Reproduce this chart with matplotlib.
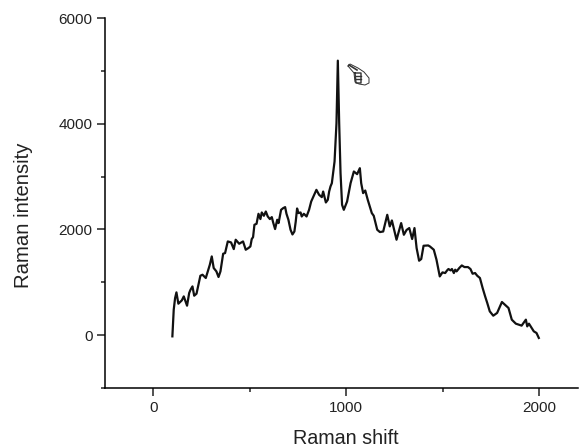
import matplotlib
matplotlib.use('Agg')
import matplotlib.pyplot as plt

plt.rcParams['font.family'] = ['Liberation Sans', 'DejaVu Sans']

raman_shift = [
    99, 106, 113, 120, 130, 148, 158, 175, 186, 193, 203, 212, 224, 244, 255, 272, 293, 303, 313, 327,
    338, 348, 362, 372, 386, 403, 417, 427, 445, 465, 479, 493,
    503, 510, 517, 524, 535, 545, 555, 562, 573, 583, 593, 604, 614, 621, 631, 642, 649, 662,
    673, 683, 690, 700, 711, 721, 731, 738, 745, 752, 763, 769, 780, 794, 807, 818, 828, 845, 859, 873,
    880, 894, 904, 911, 918, 925, 939, 949, 956, 963, 970, 978, 987, 1004, 1022, 1039, 1056, 1070, 1077, 1087,
    1098, 1111, 1132, 1142, 1160, 1174, 1191, 1212, 1225, 1236, 1260, 1284, 1298, 1312, 1326, 1341, 1353, 1364, 1377, 1388,
    1400, 1424, 1433, 1453, 1467, 1484, 1498, 1512, 1522, 1529, 1540, 1547, 1557, 1564, 1571, 1585, 1598, 1612, 1630, 1643,
    1654, 1667, 1678, 1692, 1706, 1719, 1730, 1743, 1761, 1781, 1806, 1821, 1840, 1857, 1878, 1908, 1930, 1937, 1946, 1971,
    1985, 1997,
]
raman_intensity = [
    -23, 482, 700, 809, 595, 658, 733, 557, 797, 860, 922, 746, 784, 1124, 1143, 1081, 1332, 1489, 1270, 1206,
    1100, 1206, 1540, 1553, 1773, 1754, 1628, 1805, 1729, 1773, 1616, 1648,
    1678, 1817, 1855, 2088, 2107, 2296, 2196, 2321, 2258, 2339, 2245, 2196, 2233, 2132, 2007, 2183, 2120, 2371,
    2403, 2422, 2296, 2183, 1994, 1905, 1961, 2150, 2396, 2309, 2321, 2245, 2296, 2245, 2371, 2528, 2611, 2749, 2655, 2611,
    2717, 2510, 2560, 2717, 2813, 2875, 3285, 4009, 5193, 4009, 3065, 2466, 2371, 2529, 2875, 3096, 3046, 3159, 2875, 2687,
    2736, 2560, 2309, 2258, 1994, 1950, 1961, 2277, 2057, 2170, 1805, 2120, 1899, 1990, 2026, 1818, 2026, 1648, 1408, 1440,
    1691, 1697, 1678, 1616, 1427, 1111, 1187, 1175, 1225, 1251, 1225, 1251, 1175, 1238, 1206, 1270, 1319, 1288, 1288, 1251,
    1162, 1175, 1124, 1081, 892, 733, 608, 450, 368, 420, 627, 576, 514, 293, 217, 180, 293, 166, 217, 72,
    41, -53,
]
x_ticks = [0, 1000, 2000]
x_minor = [500, 1500]
y_ticks = [0, 2000, 4000, 6000]
y_minor = [-1000, 1000, 3000, 5000]

W, H = 580, 447
fig = plt.figure(figsize=(W / 100, H / 100), dpi=100)
ax = fig.add_axes([105 / W, 1 - 388 / H, (578 - 105) / W, (388 - 18) / H])
ax.plot(raman_shift, raman_intensity, color='#111111', lw=1.6, solid_joinstyle='round')
ax.set_xlim(-250, 2200)
ax.set_ylim(-1000, 6000)
ax.set_xticks(x_ticks)
ax.set_xticks(x_minor, minor=True)
ax.set_yticks(y_ticks)
ax.set_yticks(y_minor, minor=True)
ax.spines['top'].set_visible(False)
ax.spines['right'].set_visible(False)
for s in ['left', 'bottom']:
    ax.spines[s].set_linewidth(1.1)
ax.tick_params(which='major', length=6, width=1.1, labelsize=11, pad=3, colors='#222222')
ax.tick_params(which='minor', length=3, width=1.1, colors='#222222')
ax.set_xlabel('Raman shift', fontsize=14.2, color='#222222', labelpad=10.5, x=0.5095)
ax.set_ylabel('Raman intensity', fontsize=14.6, color='#222222', labelpad=18.5, y=0.4676)

# little pointing hand, figure pixels
def hand(px, py, lw=0.7):
    fig.add_artist(plt.Line2D([p / W for p in px], [1 - p / H for p in py], color='#333333', lw=lw))

hand([348, 350, 358, 364, 369, 369, 365, 359, 355, 354, 348],
     [66, 64, 68, 72, 78, 83, 85, 84, 82, 73, 66])
hand([355, 361, 361, 356, 355], [73, 73, 83, 83, 73], lw=1.0)
hand([355, 361], [76, 76], lw=1.0)
hand([355, 361], [79, 79], lw=1.0)
hand([349, 357], [65, 70], lw=1.2)

fig.savefig('out.png', dpi=100)
